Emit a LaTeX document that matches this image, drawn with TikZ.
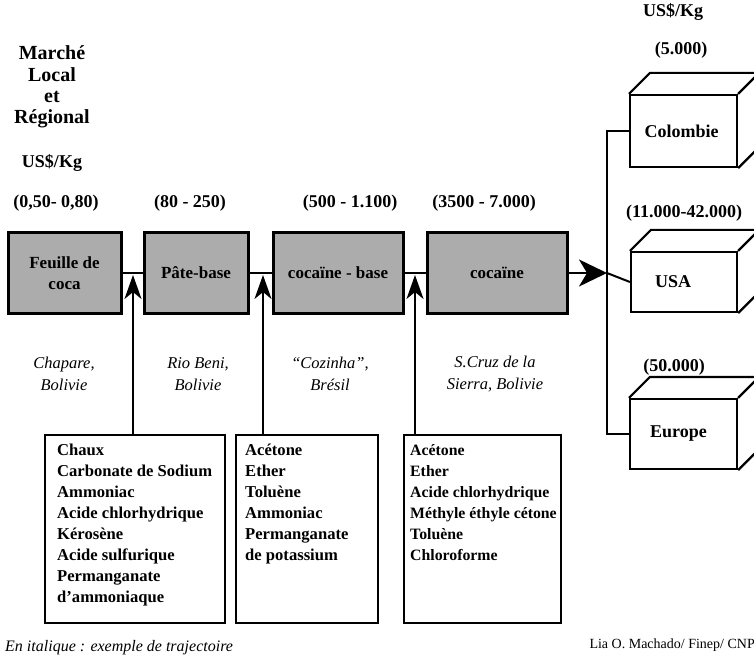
\documentclass[tikz,border=0pt]{standalone}
\usepackage{fontspec}
\setmainfont{Liberation Serif}
\usetikzlibrary{arrows.meta,calc}
\definecolor{boxgray}{RGB}{172,172,172}
\begin{document}
\begin{tikzpicture}[x=1pt,y=-1pt,
  stagebox/.style={draw=black,line width=3pt,fill=boxgray,minimum height=80pt,inner sep=0pt,font=\fontsize{17}{21}\selectfont\bfseries,align=center},
  listbox/.style={draw=black,line width=2pt,minimum height=188pt,inner sep=0pt},
  listtext/.style={anchor=north west,align=left,font=\fontsize{16.6}{21}\selectfont\bfseries,inner sep=0pt},
  hdr/.style={font=\fontsize{18}{21}\selectfont\bfseries,inner sep=0pt},
  place/.style={font=\fontsize{16.5}{22}\selectfont\itshape,align=center,inner sep=0pt},
  cube/.style={draw=black,line width=2.2pt,fill=white,inner sep=0pt,font=\fontsize{18}{21}\selectfont\bfseries},
  cubeedge/.style={line width=2.2pt,line join=round},
  conn/.style={line width=2pt},
  uparrow/.style={line width=2pt,-{Stealth[length=24pt,width=17pt,inset=7pt]}},
  bigarrow/.style={line width=2pt,-{Stealth[length=28pt,width=27pt,inset=8pt]}},
]
\clip (0,0) rectangle (754,660);
\fill[white] (0,0) rectangle (754,660);

% left header
\node[font=\fontsize{20}{21.3}\selectfont\bfseries,align=center,inner sep=0pt] (title) at (52,87) {Marché\\Local\\et\\Régional};
\node[hdr] (unitL) at (52,163) {US\$/Kg};
\node[hdr] (pr1) at (56,203) {(0,50- 0,80)};
\node[hdr] (pr2) at (190,203) {(80 - 250)};
\node[hdr] (pr3) at (350,203) {(500 - 1.100)};
\node[hdr] (pr4) at (484,203) {(3500 - 7.000)};

% stage boxes
\node[stagebox,minimum width=113pt] (leaf) at (64.5,273) {Feuille de\\coca};
\node[stagebox,minimum width=104pt] (paste) at (196,273) {Pâte-base};
\node[stagebox,minimum width=130pt] (base) at (338,273) {cocaïne - base};
\node[stagebox,minimum width=140pt] (coc) at (497,273) {cocaïne};

\draw[conn] (leaf.east) -- (paste.west);
\draw[conn] (paste.east) -- (base.west);
\draw[conn] (base.east) -- (coc.west);

% right side
\node[hdr] (unitR) at (673,12) {US\$/Kg};
\node[hdr] (prC) at (681,50) {(5.000)};
\node[hdr] (prU) at (684,213) {(11.000-42.000)};
\node[hdr] (prE) at (674,367) {(50.000)};

\node[cube,minimum width=107pt,minimum height=72pt] (col) at (683.5,131) {Colombie\hspace*{4pt}};
\node[cube,minimum width=106pt,minimum height=60pt] (usa) at (684,282) {USA\hspace*{22pt}};
\node[cube,minimum width=107pt,minimum height=70pt] (eur) at (683.5,434) {Europe\hspace*{10pt}};
\foreach \c in {col,usa,eur}{
  \draw[cubeedge] (\c.north west) -- ($(\c.north west)+(21,-21)$) -- ($(\c.north east)+(21,-21)$) -- (\c.north east);
  \draw[cubeedge] ($(\c.north east)+(21,-21)$) -- ($(\c.south east)+(21,-21)$) -- (\c.south east);
}

\coordinate (split) at (607,273);
\draw[conn] (col.west) -| (split) |- (eur.west);
\draw[conn] (split) -- (usa.west);
\draw[bigarrow] (coc.east) -- (split);

% places
\node[place] (p1) at (64,374) {Chapare,\\Bolivie};
\node[place] (p2) at (198,374) {Rio Beni,\\Bolivie};
\node[place] (p3) at (330,374) {“Cozinha”,\\Brésil};
\node[place] (p4) at (495,374) {S.Cruz de la\\Sierra, Bolivie};

% list boxes
\node[listbox,minimum width=180pt,anchor=north west] (lA) at (44,434) {};
\node[listbox,minimum width=142pt,anchor=north west] (lB) at (235,434) {};
\node[listbox,minimum width=157pt,anchor=north west] (lC) at (403,434) {};
\node[listtext] (tA) at (57,444) {Chaux\\Carbonate de Sodium\\Ammoniac\\Acide chlorhydrique\\Kérosène\\Acide sulfurique\\Permanganate\\d'ammoniaque};
\node[listtext] (tB) at (245,444) {Acétone\\Ether\\Toluène\\Ammoniac\\Permanganate\\de potassium};
\node[listtext,font=\fontsize{15.8}{21}\selectfont\bfseries] (tC) at (410,444) {Acétone\\Ether\\Acide chlorhydrique\\Méthyle éthyle cétone\\Toluène\\Chloroforme};

\coordinate (a1) at (133,275);
\coordinate (a2) at (263,275);
\coordinate (a3) at (415,275);
\draw[uparrow] (lA.north -| a1) -- (a1);
\draw[uparrow] (lB.north -| a2) -- (a2);
\draw[uparrow] (lC.north -| a3) -- (a3);

% footer
\node[font=\fontsize{16}{18}\selectfont\itshape,anchor=west,inner sep=0pt] (note) at (5,648) {En italique : exemple de trajectoire};
\node[font=\fontsize{14}{16}\selectfont,anchor=east,inner sep=0pt] (credit) at (755,645) {Lia O. Machado/ Finep/ CNP};
\end{tikzpicture}
\end{document}
